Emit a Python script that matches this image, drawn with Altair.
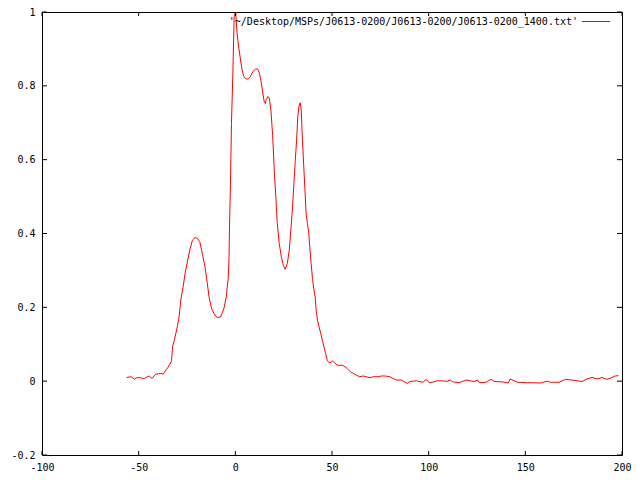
import altair as alt
import pandas as pd

# pulse profile
phase = [-56.2, -53.9, -52.2, -51.0, -49.7, -48.4, -47.1, -45.8, -44.5, -43.1,
         -42.0, -41.1, -39.8, -38.5, -37.3, -35.9, -35.0, -34.2, -33.0, -32.5,
         -31.6, -30.8, -29.9, -29.1, -28.2, -27.0, -26.0, -24.8, -23.6, -22.2,
         -20.8, -19.7, -18.4, -17.1, -15.7, -14.5, -13.6, -12.5, -11.1, -9.4,
         -7.6, -5.9, -4.7, -3.7, -3.3, -3.0, -2.5, -2.0, -1.3, -0.6,
         0.2, 0.9, 1.8, 2.7, 3.5, 4.4, 5.2, 6.1, 7.0, 7.8,
         8.6, 9.5, 10.4, 11.2, 12.0, 12.6, 13.5, 14.2, 15.0, 15.5,
         15.9, 16.9, 17.6, 18.4, 19.3, 19.8, 20.2, 21.0, 21.7, 22.7,
         23.8, 24.8, 25.8, 26.9, 27.9, 28.7, 29.6, 30.3, 31.0, 31.7,
         32.3, 33.0, 33.6, 34.1, 34.7, 35.4, 36.1, 36.6, 37.3, 38.0,
         38.5, 39.2, 39.9, 40.6, 41.3, 41.8, 42.5, 43.3, 44.2, 45.0,
         45.9, 46.7, 47.6, 48.6, 49.5, 50.3, 51.6, 52.9, 54.1, 55.5,
         56.7, 57.9, 59.6, 61.0, 62.7, 64.4, 66.1, 67.8, 69.6, 71.3,
         73.9, 75.6, 77.6, 79.9, 82.5, 83.3, 85.8, 88.9, 90.2, 93.6,
         97.0, 98.7, 100.5, 104.4, 109.9, 111.3, 112.5, 115.9, 119.3, 123.6,
         125.3, 126.2, 129.6, 132.2, 133.9, 138.2, 141.1, 142.2, 145.9, 151.1,
         157.9, 161.3, 163.0, 167.4, 170.8, 174.2, 179.4, 181.9, 184.5, 187.1,
         189.7, 192.2, 193.9, 196.5, 198.2]
intensity = [0.010, 0.012, 0.005, 0.009, 0.010, 0.008, 0.007, 0.011, 0.014, 0.007,
             0.014, 0.019, 0.020, 0.021, 0.019, 0.030, 0.036, 0.043, 0.055, 0.093,
             0.110, 0.129, 0.150, 0.174, 0.220, 0.256, 0.292, 0.323, 0.355, 0.382,
             0.389, 0.387, 0.378, 0.346, 0.310, 0.265, 0.228, 0.201, 0.183, 0.172,
             0.174, 0.197, 0.228, 0.278, 0.323, 0.423, 0.540, 0.698, 0.829, 0.990,
             1.000, 0.942, 0.902, 0.870, 0.843, 0.825, 0.820, 0.818, 0.820, 0.825,
             0.834, 0.841, 0.845, 0.846, 0.842, 0.830, 0.807, 0.780, 0.755, 0.752,
             0.762, 0.771, 0.766, 0.734, 0.665, 0.610, 0.563, 0.495, 0.427, 0.373,
             0.337, 0.314, 0.303, 0.319, 0.355, 0.409, 0.472, 0.536, 0.599, 0.653,
             0.716, 0.748, 0.754, 0.734, 0.653, 0.581, 0.508, 0.454, 0.427, 0.400,
             0.364, 0.319, 0.278, 0.250, 0.228, 0.192, 0.165, 0.147, 0.129, 0.111,
             0.092, 0.075, 0.055, 0.050, 0.051, 0.055, 0.048, 0.043, 0.043, 0.043,
             0.039, 0.034, 0.025, 0.021, 0.016, 0.012, 0.014, 0.012, 0.009, 0.012,
             0.012, 0.014, 0.014, 0.012, 0.005, 0.003, 0.003, -0.006, -0.001, 0.001,
             -0.003, 0.005, -0.005, 0.001, 0.000, 0.003, -0.002, -0.004, 0.003, -0.001,
             0.003, -0.004, -0.003, 0.005, -0.001, -0.002, -0.005, 0.006, -0.003, -0.004,
             -0.005, 0.000, -0.003, -0.003, 0.005, 0.003, -0.001, 0.006, 0.010, 0.006,
             0.010, 0.005, 0.008, 0.014, 0.015]

x_ticks = [-100, -50, 0, 50, 100, 150, 200]
y_ticks = [-0.2, 0, 0.2, 0.4, 0.6, 0.8, 1]
legend_label = "'~/Desktop/MSPs/J0613-0200/J0613-0200/J0613-0200_1400.txt'"

W, H = 580, 443
FONT = "DejaVu Sans Mono"

df = pd.DataFrame({"x": phase, "y": intensity})
xt = pd.DataFrame({"x": x_ticks})
yt = pd.DataFrame({"y": y_ticks})
one = pd.DataFrame({"k": [0]})

xscale = alt.Scale(domain=[-100, 200], nice=False, zero=False)
yscale = alt.Scale(domain=[-0.2, 1], nice=False, zero=False)

xaxis = alt.Axis(values=x_ticks, title="", grid=False, ticks=False, domain=False,
                 labelFont=FONT, labelFontSize=10, labelColor="black",
                 labelPadding=7, labelExpr="'' + datum.value", labelFlush=False)
yaxis = alt.Axis(values=y_ticks, title="", grid=False, ticks=False, domain=False,
                 labelFont=FONT, labelFontSize=10, labelColor="black",
                 labelPadding=7, labelExpr="'' + datum.value", labelFlush=False)

xenc = alt.X("x:Q", scale=xscale, axis=xaxis)
yenc = alt.Y("y:Q", scale=yscale, axis=yaxis)

line = alt.Chart(df).mark_line(color="#ff0000", strokeWidth=1, clip=True).encode(
    x=xenc, y=yenc)

tick_len = 4
xt_bottom = alt.Chart(xt).mark_rule(color="black", strokeWidth=1).encode(
    x=xenc, y=alt.value(H), y2=alt.value(H - tick_len))
xt_top = alt.Chart(xt).mark_rule(color="black", strokeWidth=1).encode(
    x=xenc, y=alt.value(0), y2=alt.value(tick_len))
yt_left = alt.Chart(yt).mark_rule(color="black", strokeWidth=1).encode(
    y=yenc, x=alt.value(0), x2=alt.value(tick_len + 1))
yt_right = alt.Chart(yt).mark_rule(color="black", strokeWidth=1).encode(
    y=yenc, x=alt.value(W), x2=alt.value(W - tick_len - 1))

leg_text = alt.Chart(one).mark_text(
    align="right", baseline="middle", font=FONT, fontSize=10, color="black"
).encode(x=alt.value(536), y=alt.value(10), text=alt.value(legend_label))
leg_line = alt.Chart(one).mark_rule(color="#ff0000", strokeWidth=1).encode(
    x=alt.value(540), x2=alt.value(568), y=alt.value(9.5))

chart = alt.layer(line, xt_bottom, xt_top, yt_left, yt_right, leg_text, leg_line).properties(
    width=W, height=H,
    autosize=alt.AutoSizeParams(type="none"),
    padding={"left": 34, "top": 4, "right": 10, "bottom": 17},
    background="white",
).configure_view(stroke="black", strokeWidth=1)

chart.save("out.html", embed_options={"renderer": "svg", "actions": False})
